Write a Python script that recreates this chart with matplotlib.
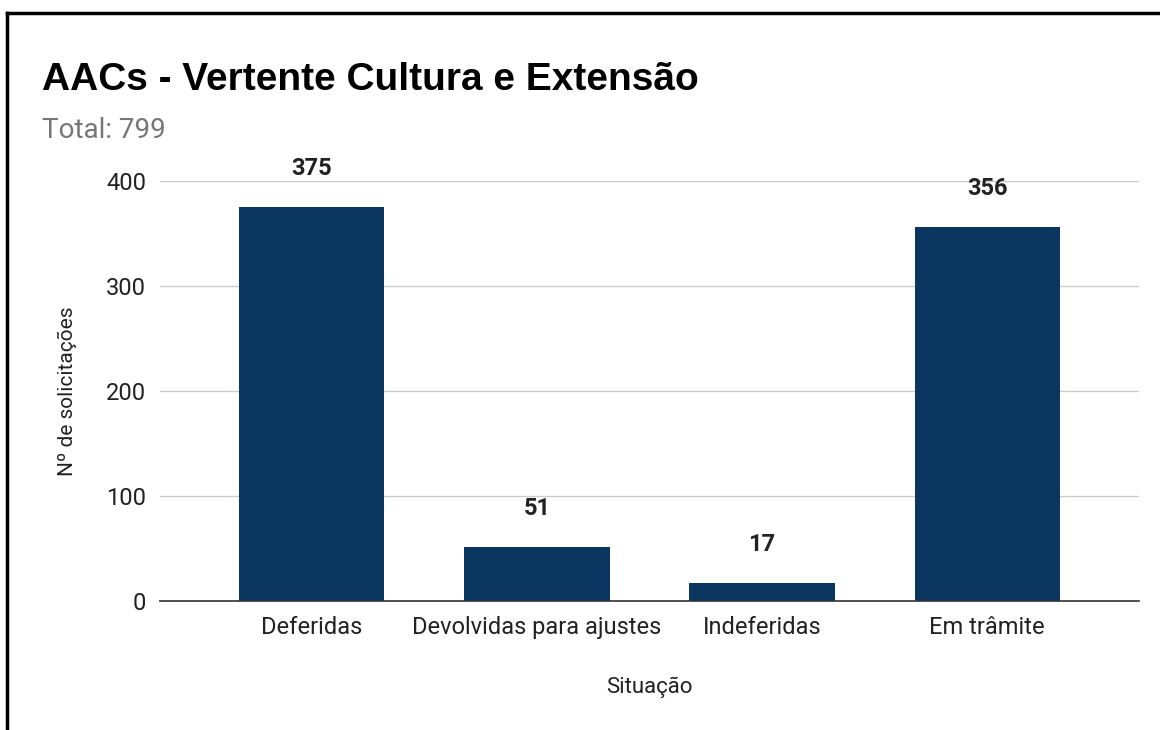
import matplotlib
matplotlib.use("Agg")
import matplotlib.pyplot as plt

# dados
situacoes = ["Deferidas", "Devolvidas para ajustes", "Indeferidas", "Em trâmite"]
solicitacoes = [375, 51, 17, 356]
total = 799
y_ticks = [0, 100, 200, 300, 400]

BAR_COLOR = "#0a3660"
plt.rcParams["font.family"] = ["Roboto", "DejaVu Sans"]

fig = plt.figure(figsize=(11.6, 7.3), dpi=100)
ax = fig.add_axes([0.1379, 0.1767, 0.8440, 0.5753])

x = list(range(len(situacoes)))
ax.bar(x, solicitacoes, width=0.645, color=BAR_COLOR, zorder=3)

# rótulos de valor
for xi, v in zip(x, solicitacoes):
    ax.annotate(str(v), (xi, v), xytext=(0, 28), textcoords="offset points",
                ha="center", va="center", fontsize=17, fontweight="bold",
                color="#222222", annotation_clip=False)

ax.set_xlim(-0.675, 3.675)
ax.set_ylim(0, 400)
ax.set_yticks(y_ticks)
ax.set_xticks(x)
ax.set_xticklabels(situacoes)
ax.tick_params(axis="both", length=0, labelsize=17, colors="#222222")
ax.tick_params(axis="y", pad=10)
ax.tick_params(axis="x", pad=11)

ax.grid(axis="y", color="#cccccc", linewidth=1, zorder=0)
for s in ["top", "right", "left"]:
    ax.spines[s].set_visible(False)
ax.spines["bottom"].set_color("#333333")
ax.spines["bottom"].set_linewidth(1.2)
ax.spines["bottom"].set_zorder(4)

ax.set_xlabel("Situação", fontsize=16, color="#222222", labelpad=27)
ax.set_ylabel("Nº de solicitações", fontsize=15, color="#222222", labelpad=21)

# título e subtítulo
fig.text(42 / 1160, 1 - 80 / 730, "AACs - Vertente Cultura e Extensão",
         fontsize=28, fontweight="bold", family=["Liberation Sans", "DejaVu Sans"],
         ha="left", va="center", color="#000000")
fig.text(42 / 1160, 1 - 130 / 730, f"Total: {total}",
         fontsize=20, color="#777777", ha="left", va="center")

# moldura recortada (topo e esquerda)
fig.add_artist(plt.Line2D([7 / 1160, 1], [1 - 13 / 730, 1 - 13 / 730],
                          transform=fig.transFigure, color="black", linewidth=2.5))
fig.add_artist(plt.Line2D([7 / 1160, 7 / 1160], [0, 1 - 13 / 730],
                          transform=fig.transFigure, color="black", linewidth=2.5))

fig.savefig("out.png", dpi=100)
plt.close(fig)
